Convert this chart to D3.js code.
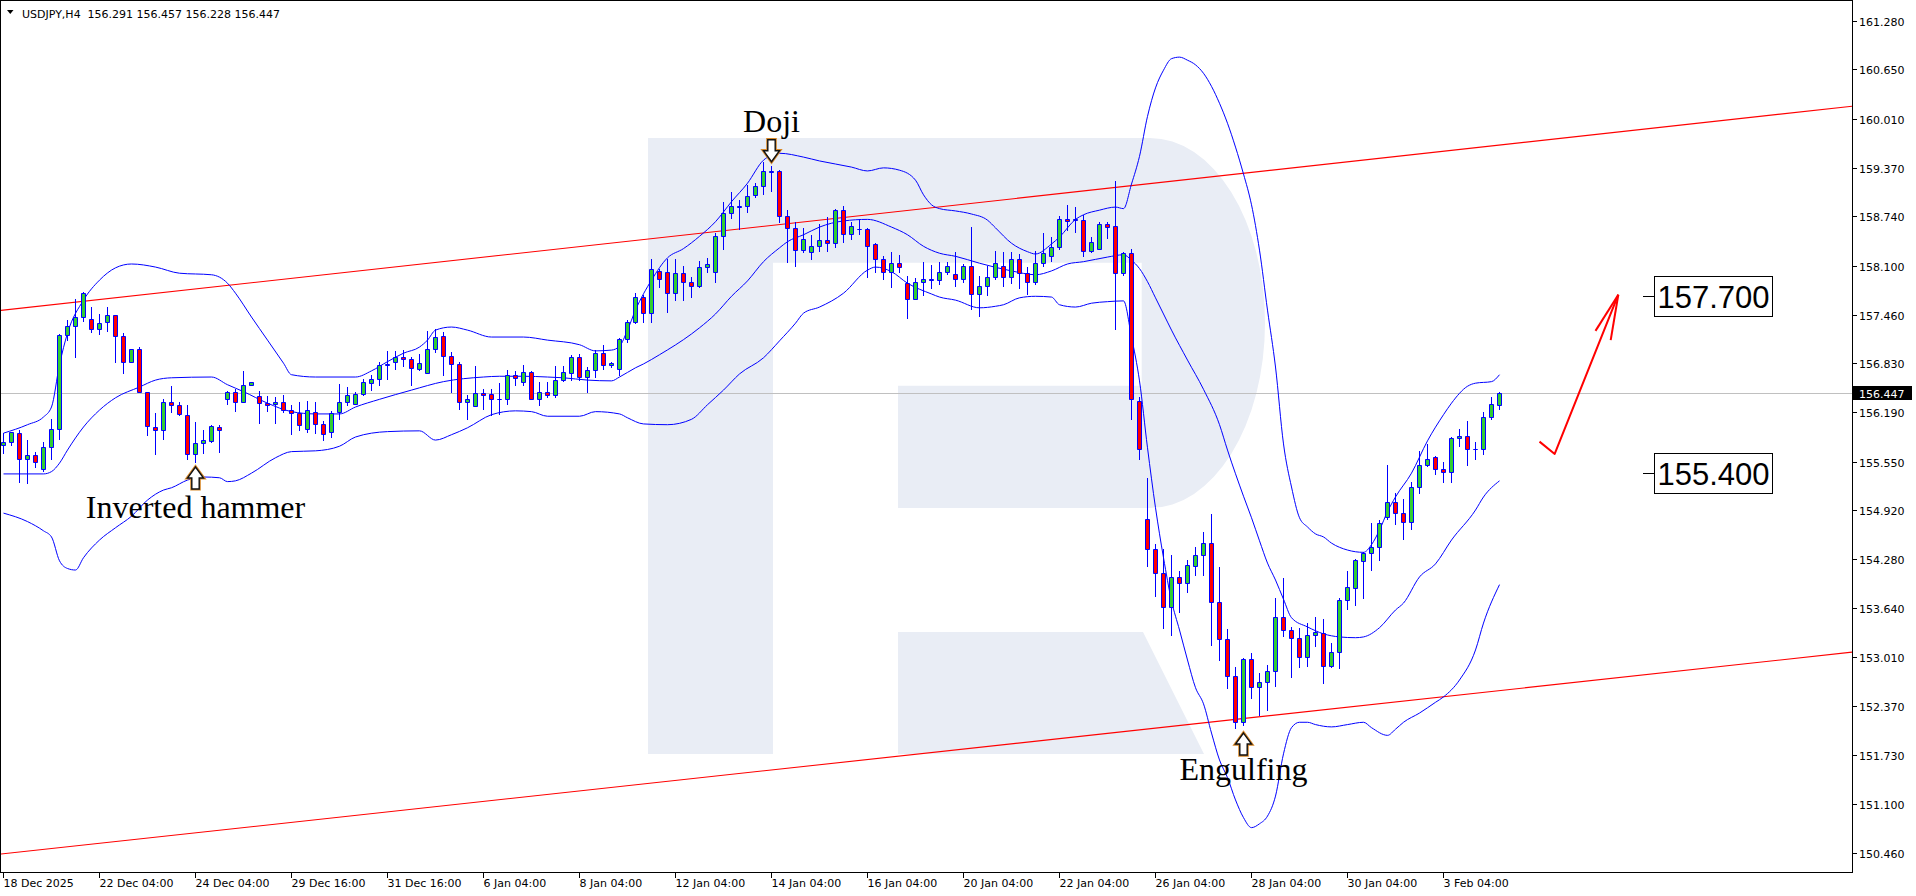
<!DOCTYPE html>
<html><head><meta charset="utf-8">
<script src="https://cdn.jsdelivr.net/npm/d3@7"></script>
<style>
html,body{margin:0;padding:0;background:#fff;overflow:hidden}
svg{display:block}
</style></head><body>
<svg id="chart" width="1916" height="896"></svg>
<script>
// ---------------- DATA ----------------
const symbolTitle = "USDJPY,H4";
const headerValues = ["156.291", "156.457", "156.228", "156.447"];

const opens = [155.76,155.80,155.92,155.58,155.63,155.45,155.74,155.98,157.19,157.31,157.43,157.41,157.28,157.36,157.46,157.18,156.84,157.01,156.45,156.00,
155.96,156.33,156.28,156.16,155.65,155.79,155.82,156.00,156.36,156.45,156.32,156.55,156.40,156.31,156.30,156.32,156.22,156.18,155.97,156.20,
156.04,155.93,156.19,156.32,156.30,156.43,156.57,156.62,156.80,156.85,156.91,156.89,156.76,156.70,157.01,157.18,156.92,156.82,156.32,156.27,
156.44,156.43,156.36,156.36,156.68,156.58,156.71,156.37,156.45,156.41,156.61,156.70,156.91,156.65,156.74,156.96,156.80,156.76,157.15,157.36,
157.69,157.48,158.03,158.02,157.74,158.00,157.88,157.83,158.08,158.02,158.48,158.78,158.86,158.87,159.02,159.14,159.32,159.33,158.75,158.59,
158.30,158.28,158.35,158.43,158.39,158.82,158.51,158.58,158.58,158.38,158.18,158.01,158.13,157.87,157.67,157.89,157.92,157.91,158.02,157.99,
157.93,158.09,157.73,157.83,157.95,158.10,157.95,158.19,158.00,157.88,158.13,158.23,158.34,158.71,158.69,158.69,158.29,158.32,158.64,158.61,
158.00,158.26,156.34,154.81,154.41,154.10,153.66,154.05,153.97,154.19,154.33,154.49,153.73,153.24,152.76,152.16,152.98,152.62,152.69,152.83,
153.53,153.36,153.25,153.01,153.30,153.32,152.89,153.07,153.75,153.90,154.26,154.36,154.44,154.83,155.02,154.88,154.76,155.22,155.50,155.61,
155.46,155.41,155.86,155.88,155.72,155.71,156.13,156.291];

const highs = [155.92,155.94,155.96,155.83,155.68,155.80,156.11,157.21,157.39,157.66,157.75,157.56,157.47,157.56,157.46,157.22,157.02,157.04,156.45,156.18,
156.36,156.53,156.33,156.28,156.07,155.96,156.02,156.03,156.47,156.50,156.73,156.59,156.47,156.40,156.39,156.42,156.29,156.33,156.34,156.33,
156.08,156.21,156.56,156.52,156.45,156.63,156.67,156.85,156.99,156.99,157.00,156.91,156.95,157.25,157.28,157.24,156.98,156.84,156.41,156.79,
156.49,156.50,156.57,156.74,156.73,156.81,156.73,156.58,156.58,156.79,156.79,156.94,156.95,156.78,157.00,157.07,156.85,157.16,157.39,157.74,
157.72,158.18,158.06,158.18,158.18,158.09,157.95,158.16,158.20,158.52,158.92,159.05,158.95,159.15,159.17,159.45,159.40,159.34,158.82,158.66,
158.59,158.50,158.64,158.73,158.84,158.87,158.67,158.70,158.59,158.39,158.22,158.27,158.24,157.96,157.94,158.15,158.11,158.14,158.15,158.27,
158.12,158.60,157.96,158.09,158.29,158.28,158.27,158.25,158.08,158.29,158.52,158.47,158.74,158.89,158.86,158.76,158.47,158.66,158.66,159.20,
158.28,158.32,156.39,155.34,154.48,154.41,154.34,154.13,154.27,154.44,154.64,154.87,154.18,153.37,152.88,153.00,153.06,152.80,152.91,153.77,
154.03,153.40,153.38,153.45,153.53,153.50,153.19,153.78,154.13,154.28,154.38,154.75,154.79,155.51,155.14,155.06,155.28,155.69,155.78,155.62,
155.54,155.87,155.97,156.08,155.81,156.19,156.39,156.457];

const lows = [155.66,155.76,155.29,155.27,155.48,155.43,155.58,155.84,157.13,156.91,157.38,157.24,157.21,157.25,156.85,156.70,156.84,156.45,155.90,155.65,
155.85,156.20,156.16,155.59,155.55,155.66,155.80,155.67,156.30,156.21,156.32,156.55,156.05,156.21,156.05,156.19,155.91,155.96,155.94,155.92,
155.83,155.87,156.11,156.29,156.30,156.41,156.48,156.54,156.63,156.75,156.79,156.55,156.74,156.70,156.98,156.67,156.45,156.24,156.11,156.27,
156.23,156.16,156.17,156.30,156.55,156.54,156.36,156.28,156.39,156.39,156.60,156.61,156.61,156.45,156.65,156.75,156.78,156.67,157.11,157.35,
157.36,157.36,157.82,157.50,157.65,157.65,157.69,157.82,158.02,157.89,158.31,158.72,158.57,158.79,158.99,159.03,159.07,158.66,158.14,158.09,
158.28,158.19,158.29,158.29,158.34,158.40,158.45,158.51,157.95,158.01,157.92,157.82,158.02,157.42,157.67,157.72,157.81,157.86,157.99,157.83,
157.88,157.54,157.45,157.72,157.93,157.83,157.87,157.81,157.73,157.86,158.10,158.16,158.32,158.56,158.53,158.23,158.27,158.32,158.46,157.28,
157.98,156.11,155.59,154.19,153.80,153.38,153.29,153.60,153.85,154.08,154.07,153.16,152.97,152.60,152.08,152.13,152.47,152.25,152.32,152.63,
153.28,152.75,152.88,152.89,153.15,152.67,152.88,152.86,153.63,153.68,153.78,154.14,154.27,154.80,154.74,154.54,154.68,155.14,155.49,155.39,
155.28,155.29,155.75,155.51,155.59,155.65,156.10,156.228];

const closes = [155.81,155.93,155.58,155.63,155.54,155.74,155.98,157.19,157.32,157.43,157.74,157.28,157.35,157.46,157.18,156.84,157.01,156.45,156.01,155.96,
156.33,156.28,156.17,155.65,155.79,155.83,156.01,155.96,156.45,156.32,156.55,156.58,156.31,156.29,156.32,156.22,156.18,156.02,156.22,156.04,
155.91,156.18,156.32,156.42,156.43,156.58,156.62,156.80,156.82,156.91,156.89,156.77,156.83,157.01,157.17,156.92,156.82,156.32,156.37,156.44,
156.42,156.37,156.37,156.68,156.64,156.71,156.37,156.45,156.41,156.61,156.71,156.91,156.65,156.74,156.96,156.81,156.83,157.15,157.36,157.69,
157.48,158.05,157.93,157.74,158.00,157.88,157.83,158.08,158.12,158.48,158.78,158.88,158.88,159.01,159.14,159.33,159.33,158.75,158.59,158.30,
158.44,158.36,158.43,158.39,158.82,158.51,158.62,158.57,158.36,158.19,158.01,158.13,158.08,157.67,157.89,157.92,157.91,158.02,158.10,157.93,
158.09,157.73,157.83,157.95,158.13,157.95,158.19,158.00,157.88,158.13,158.26,158.34,158.70,158.68,158.70,158.29,158.40,158.64,158.60,158.00,
158.26,156.36,155.71,154.41,154.10,153.66,154.05,153.97,154.20,154.33,154.49,153.73,153.24,152.76,152.16,152.98,152.62,152.69,152.83,153.53,
153.36,153.25,153.01,153.30,153.33,152.89,153.08,153.75,153.92,154.27,154.36,154.44,154.75,155.02,154.88,154.76,155.22,155.50,155.59,155.46,
155.41,155.86,155.88,155.71,155.71,156.13,156.30,156.447];

const timeLabels = ["18 Dec 2025","22 Dec 04:00","24 Dec 04:00","29 Dec 16:00","31 Dec 16:00","6 Jan 04:00","8 Jan 04:00","12 Jan 04:00",
  "14 Jan 04:00","16 Jan 04:00","20 Jan 04:00","22 Jan 04:00","26 Jan 04:00","28 Jan 04:00","30 Jan 04:00","3 Feb 04:00"];
const barsPerTimeLabel = 12;

const priceTicks = [161.280,160.650,160.010,159.370,158.740,158.100,157.460,156.830,156.190,155.550,154.920,154.280,153.640,153.010,152.370,151.730,151.100,150.460];
const lastPrice = 156.447;

// Bollinger Bands (20, 2): [bar, price]
const bbUpper = [[0,155.92],[3,156.03],[5,156.13],[6,156.26],[7,156.81],[8,157.22],[10,157.65],[12,157.91],[14,158.07],[16,158.12],[19,158.08],[22,158.00],[26,157.98],[28,157.87],[29,157.74],[31,157.43],[33,157.13],[35,156.83],[36,156.68],[39,156.65],[44,156.65],[46,156.73],[48,156.85],[50,156.96],[52,157.04],[53,157.13],[54,157.26],[56,157.30],[58,157.26],[61,157.17],[65,157.17],[68,157.13],[72,157.07],[74,156.99],[76,157.00],[77,157.05],[78,157.26],[79,157.52],[81,157.91],[83,158.20],[85,158.32],[87,158.48],[89,158.67],[91,158.93],[93,159.17],[95,159.47],[97,159.56],[100,159.51],[102,159.46],[106,159.38],[108,159.33],[110,159.37],[112,159.34],[114,159.21],[115,159.02],[116,158.89],[117,158.84],[119,158.81],[121,158.77],[123,158.69],[124,158.59],[126,158.39],[128,158.28],[129,158.25],[131,158.38],[132,158.47],[134,158.70],[135,158.76],[137,158.82],[139,158.86],[140,158.84],[141,159.16],[142,159.52],[143,160.04],[144,160.41],[145,160.64],[146,160.79],[147,160.81],[148,160.77],[149,160.71],[150,160.60],[151,160.43],[152,160.21],[153,159.95],[154,159.64],[155,159.29],[156,158.89],[157,158.30],[158,157.52],[159,156.78],[160,155.78],[161,155.22],[162,154.82],[163,154.70],[164,154.61],[165,154.57],[166,154.49],[168,154.40],[170,154.37],[171,154.47],[172,154.66],[173,154.90],[174,155.09],[176,155.40],[178,155.82],[180,156.16],[181,156.31],[183,156.53],[184,156.57],[186,156.59],[187,156.68]];
const bbMiddle = [[0,155.39],[3,155.39],[5,155.39],[6,155.42],[7,155.53],[8,155.70],[10,156.00],[12,156.22],[14,156.38],[17,156.52],[19,156.61],[21,156.64],[26,156.65],[28,156.55],[30,156.46],[33,156.31],[36,156.20],[39,156.17],[42,156.17],[44,156.26],[47,156.36],[51,156.48],[55,156.59],[60,156.65],[62,156.66],[65,156.66],[68,156.65],[70,156.64],[73,156.61],[76,156.60],[77,156.65],[79,156.77],[80,156.82],[82,156.94],[86,157.21],[87,157.29],[89,157.47],[91,157.70],[93,157.90],[95,158.15],[97,158.33],[98,158.41],[100,158.50],[102,158.60],[105,158.68],[108,158.70],[111,158.60],[113,158.50],[115,158.35],[117,158.26],[119,158.22],[122,158.13],[126,158.03],[129,157.98],[131,158.03],[133,158.12],[135,158.15],[138,158.21],[140,158.24],[141,158.17],[142,158.06],[143,157.89],[144,157.68],[145,157.47],[146,157.26],[148,156.87],[150,156.49],[152,156.03],[153,155.70],[155,155.10],[156,154.82],[157,154.52],[158,154.23],[159,154.01],[160,153.76],[161,153.52],[163,153.40],[165,153.31],[167,153.27],[169,153.26],[170,153.27],[172,153.39],[174,153.62],[175,153.71],[177,154.05],[179,154.22],[181,154.53],[184,154.92],[185,155.09],[187,155.30]];
const bbLower = [[0,154.88],[3,154.77],[5,154.65],[6,154.57],[7,154.26],[8,154.16],[9,154.14],[10,154.30],[12,154.53],[14,154.69],[16,154.84],[18,155.05],[20,155.18],[21,155.21],[23,155.31],[25,155.35],[27,155.34],[28,155.29],[29,155.30],[31,155.40],[34,155.60],[36,155.68],[39,155.69],[42,155.75],[44,155.87],[48,155.94],[52,155.95],[54,155.83],[56,155.90],[58,155.99],[61,156.16],[64,156.21],[66,156.20],[68,156.14],[72,156.14],[74,156.20],[77,156.17],[78,156.12],[80,156.04],[83,156.03],[86,156.10],[88,156.29],[90,156.48],[92,156.69],[95,156.90],[97,157.12],[99,157.35],[100,157.48],[102,157.56],[105,157.74],[108,158.04],[109,158.08],[111,158.02],[113,157.87],[116,157.73],[117,157.69],[119,157.65],[122,157.55],[124,157.57],[125,157.59],[127,157.68],[129,157.70],[131,157.69],[132,157.59],[134,157.56],[136,157.61],[138,157.63],[140,157.64],[141,157.17],[142,156.60],[143,155.73],[144,154.95],[145,154.30],[146,153.74],[147,153.36],[148,152.97],[149,152.61],[150,152.40],[151,152.02],[152,151.67],[153,151.44],[154,151.15],[155,150.92],[156,150.79],[157,150.84],[158,150.94],[159,151.20],[160,151.75],[161,152.09],[162,152.16],[163,152.16],[164,152.13],[166,152.10],[168,152.13],[170,152.16],[171,152.09],[173,151.99],[174,152.07],[175,152.16],[177,152.28],[179,152.42],[180,152.49],[182,152.71],[184,153.10],[185,153.45],[187,153.95]];

// Channel trend lines: two anchor points [bar, price]
const channelUpper = [[0,157.52],[230,160.16]];
const channelLower = [[0,150.45],[230,153.06]];

// Target levels
const targetLevels = ["157.700", "155.400"];
const targetBar = 205;

// Candlestick pattern annotations
const patternNames = ["Doji", "Inverted hammer", "Engulfing"];
const patternBars = [96, 24, 155];
const patternArrowTips = [159.45, 155.48, 152.02];
const patternLabelPrices = [159.84, 154.82, 151.41];
const patternDirections = ["down", "up", "up"];

// Forecast arrow: [bar, price]
const forecastPath = [[192.0,155.81],[193.9,155.65],[201.85,157.72]];
const forecastHeadEnds = [[199.0,157.25],[200.9,157.13]];

// ---------------- CHART ----------------
const W = 1916, H = 896;
const plot = {left: 0, top: 0, right: 1852, bottom: 872};
const svg = d3.select("#chart");

const x = d3.scaleLinear().domain([-0.4375, 231.0625]).range([plot.left, plot.right]);
const y = d3.scaleLinear().domain([150.46, 161.28]).range([853, 21]);
const snap = v => Math.round(v) + 0.5;

svg.append("rect").attr("width", W).attr("height", H).attr("fill", "#fff");

svg.append("defs").append("clipPath").attr("id", "plotclip")
  .append("rect").attr("x", plot.left + 1).attr("y", plot.top + 1)
  .attr("width", plot.right - plot.left - 1).attr("height", plot.bottom - plot.top - 1);

const g = svg.append("g").attr("clip-path", "url(#plotclip)");

// Watermark logo (background decoration) in local coordinates
const logo = g.append("g").attr("transform", "translate(648,138)").attr("fill", "#e9edf5");
logo.append("path").attr("d", "M0,0 H125 V616 H0 Z");
logo.append("path").attr("d", "M125,0 H502 A115,185 0 0 1 502,370 H250 V247.7 H493.7 V124.7 H125 Z");
logo.append("path").attr("d", "M250,494 H495 L556,616 H250 Z");

// Channel lines
function extendLine(pts) {
  const [b0, p0] = pts[0], [b1, p1] = pts[1];
  const d0 = x.domain()[0], d1 = x.domain()[1];
  const slope = (p1 - p0) / (b1 - b0);
  return [[d0, p0 + slope * (d0 - b0)], [d1, p0 + slope * (d1 - b0)]];
}
[channelUpper, channelLower].forEach(pts => {
  const e = extendLine(pts);
  g.append("line")
    .attr("x1", x(e[0][0])).attr("y1", y(e[0][1]))
    .attr("x2", x(e[1][0])).attr("y2", y(e[1][1]))
    .attr("stroke", "#ff0000").attr("stroke-width", 1.1);
});

// Current price line
g.append("line")
  .attr("x1", plot.left).attr("x2", plot.right)
  .attr("y1", snap(y(lastPrice))).attr("y2", snap(y(lastPrice)))
  .attr("stroke", "#c0c0c0").attr("stroke-width", 1);

// Bollinger bands
const bandLine = d3.line().x(d => x(d[0])).y(d => y(d[1])).curve(d3.curveMonotoneX);
[bbUpper, bbMiddle, bbLower].forEach(band => {
  g.append("path").attr("d", bandLine(band))
    .attr("fill", "none").attr("stroke", "#0000ff").attr("stroke-width", 1);
});

// Candles
const bars = opens.map((o, i) => ({i, o, h: highs[i], l: lows[i], c: closes[i]}));
const cg = g.append("g");
bars.forEach(d => {
  const cx = Math.floor(x(d.i)) + 0.5;
  cg.append("line")
    .attr("x1", cx).attr("x2", cx)
    .attr("y1", Math.round(y(d.h))).attr("y2", Math.round(y(d.l)) + 1)
    .attr("stroke", "#0000ff").attr("stroke-width", 1);
  const top = snap(y(Math.max(d.o, d.c)));
  const bot = snap(y(Math.min(d.o, d.c)));
  const up = d.c >= d.o;
  cg.append("path")
    .attr("d", `M${cx - 2},${top} H${cx + 2} V${bot} H${cx - 2} Z`)
    .attr("fill", up ? "#32cd32" : "#ff0000")
    .attr("stroke", "#0000ff").attr("stroke-width", 1);
});

// Pattern arrows and labels
function blockArrow(dir) {
  const s = dir === "up" ? 1 : -1;
  const pts = [[0,0],[8,11],[3.7,11],[3.7,22],[-3.7,22],[-3.7,11],[-8,11]];
  return "M" + pts.map(p => `${p[0]},${p[1] * s}`).join(" L") + " Z";
}
patternNames.forEach((name, k) => {
  const cx = x(patternBars[k]);
  const ty = y(patternArrowTips[k]);
  const ag = g.append("g").attr("transform", `translate(${cx},${ty})`);
  ag.append("path").attr("d", blockArrow(patternDirections[k]))
    .attr("fill", "#fff").attr("stroke", "#d8892a").attr("stroke-width", 3.2)
    .attr("stroke-linejoin", "miter");
  ag.append("path").attr("d", blockArrow(patternDirections[k]))
    .attr("fill", "#fff").attr("stroke", "#111").attr("stroke-width", 1.4)
    .attr("stroke-linejoin", "miter");
  g.append("text")
    .attr("x", cx).attr("y", y(patternLabelPrices[k]))
    .attr("text-anchor", "middle")
    .attr("font-family", "'Liberation Serif', 'DejaVu Serif', serif")
    .attr("font-size", 32).attr("fill", "#000")
    .text(name);
});

// Target level labels
targetLevels.forEach(lv => {
  const ly = snap(y(+lv));
  const x0 = Math.floor(x(targetBar));
  g.append("line").attr("x1", x0).attr("x2", x0 + 11)
    .attr("y1", ly).attr("y2", ly).attr("stroke", "#000").attr("stroke-width", 1);
  const bx = x0 + 11.5;
  const t = g.append("text")
    .attr("x", bx + 3).attr("y", ly + 11.5)
    .attr("font-family", "'Liberation Sans', Arial, sans-serif")
    .attr("font-size", 31).attr("fill", "#000").text(lv);
  const tw = t.node().getComputedTextLength();
  g.insert("rect", () => t.node())
    .attr("x", bx).attr("y", ly - 20)
    .attr("width", Math.round(tw + 6)).attr("height", 40)
    .attr("fill", "#fff").attr("stroke", "#000").attr("stroke-width", 1);
});

// Forecast arrow
const fLine = d3.line().x(d => x(d[0])).y(d => y(d[1]));
g.append("path").attr("d", fLine(forecastPath))
  .attr("fill", "none").attr("stroke", "#ff0000").attr("stroke-width", 2)
  .attr("stroke-linejoin", "round");
const tip = forecastPath[forecastPath.length - 1];
forecastHeadEnds.forEach(e => {
  g.append("path").attr("d", fLine([e, tip]))
    .attr("fill", "none").attr("stroke", "#ff0000").attr("stroke-width", 2);
});

// Header
svg.append("path").attr("d", "M7,10 L13.5,10 L10.25,14 Z").attr("fill", "#000");
svg.append("text").attr("x", 22).attr("y", 17.5)
  .attr("font-family", "'DejaVu Sans', Verdana, sans-serif").attr("font-size", 11)
  .attr("fill", "#000").attr("xml:space", "preserve").style("white-space", "pre")
  .text(symbolTitle + "  " + headerValues.join(" "));

// Frame
svg.append("rect")
  .attr("x", plot.left + 0.5).attr("y", plot.top + 0.5)
  .attr("width", plot.right - plot.left).attr("height", plot.bottom - plot.top)
  .attr("fill", "none").attr("stroke", "#000").attr("stroke-width", 1);

// Price axis
const ax = svg.append("g");
priceTicks.forEach(t => {
  const ty = snap(y(t));
  ax.append("line").attr("x1", plot.right + 0.5).attr("x2", plot.right + 5)
    .attr("y1", ty).attr("y2", ty).attr("stroke", "#000");
  ax.append("text").attr("x", plot.right + 7).attr("y", ty + 4)
    .attr("font-family", "'DejaVu Sans', Verdana, sans-serif").attr("font-size", 11)
    .attr("fill", "#000").text(t.toFixed(3));
});
// Last price tag
const lpy = snap(y(lastPrice));
ax.append("rect").attr("x", plot.right + 1).attr("y", lpy - 7.5)
  .attr("width", 59).attr("height", 14).attr("fill", "#000");
ax.append("text").attr("x", plot.right + 7).attr("y", lpy + 4)
  .attr("font-family", "'DejaVu Sans', Verdana, sans-serif").attr("font-size", 11)
  .attr("fill", "#fff").text(lastPrice.toFixed(3));

// Time axis
timeLabels.forEach((lab, k) => {
  const tx = Math.floor(x(k * barsPerTimeLabel)) + 0.5;
  ax.append("line").attr("x1", tx).attr("x2", tx)
    .attr("y1", plot.bottom + 0.5).attr("y2", plot.bottom + 6).attr("stroke", "#000");
  ax.append("text").attr("x", tx).attr("y", plot.bottom + 15)
    .attr("font-family", "'DejaVu Sans', Verdana, sans-serif").attr("font-size", 11)
    .attr("fill", "#000").text(lab);
});
</script>
</body></html>
